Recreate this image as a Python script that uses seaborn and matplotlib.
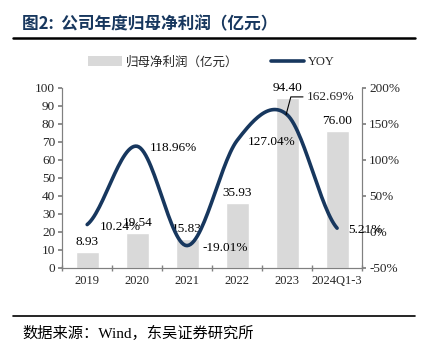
import matplotlib.pyplot as plt
import numpy as np
import seaborn as sns
import pandas as pd
from matplotlib.lines import Line2D
from matplotlib.patches import Patch

sns.set_theme(style="white")
plt.rcParams['font.family'] = ['Liberation Serif', 'Noto Sans CJK SC']

# 数据
categories = ['2019', '2020', '2021', '2022', '2023', '2024Q1-3']
profit = [8.93, 19.54, 15.83, 35.93, 94.40, 76.00]
yoy = [10.24, 118.96, -19.01, 127.04, 162.69, 5.21]
profit_labels = ['8.93', '19.54', '15.83', '35.93', '94.40', '76.00']
yoy_labels = ['10.24%', '118.96%', '-19.01%', '127.04%', '162.69%', '5.21%']

bar_color = '#d9d9d9'
line_color = '#17375e'
axis_color = '#808080'

df = pd.DataFrame({'年份': categories, '利润': profit})

fig = plt.figure(figsize=(4.23, 3.53), dpi=100)
ax = fig.add_axes([0.147, 0.241, 0.709, 0.510])

sns.barplot(data=df, x='年份', y='利润', color=bar_color, width=0.46,
            saturation=1, ax=ax)
ax.set_ylim(0, 100)
ax.set_xlim(-0.5, 5.5)
ax.set_yticks(range(0, 101, 10))
ax.set_xlabel('')
ax.set_ylabel('')

# 柱子数值标签
for i, (v, s) in enumerate(zip(profit, profit_labels)):
    ax.text(i, v + 2.2, s, ha='center', va='bottom', fontsize=9.5, color='black')

# 平滑曲线 (Catmull-Rom)
ax2 = ax.twinx()
pts = np.array(yoy, dtype=float)
ext = np.concatenate([[pts[0]], pts, [pts[-1]]])
xs, ys = [], []
for k in range(len(pts) - 1):
    p0, p1, p2, p3 = ext[k], ext[k + 1], ext[k + 2], ext[k + 3]
    t = np.linspace(0, 1, 30)
    y = 0.5 * (2 * p1 + (-p0 + p2) * t + (2 * p0 - 5 * p1 + 4 * p2 - p3) * t ** 2
               + (-p0 + 3 * p1 - 3 * p2 + p3) * t ** 3)
    xs.extend(k + t)
    ys.extend(y)
sns.lineplot(x=xs, y=ys, sort=False, color=line_color, lw=2.6, ax=ax2)
ax2.set_ylim(-50, 200)
ax2.set_yticks(range(-50, 201, 50))
ax2.set_yticklabels([f'{v}%' for v in range(-50, 201, 50)])

# 折线标签
yoy_pos = [(0.66, 6.9), (1.72, 116.7), (2.76, -22), (3.7, 125), (4.86, 187.5), (5.56, 2.8)]
for (x, y), s in zip(yoy_pos, yoy_labels):
    if s == '162.69%':
        ax2.annotate(s, xy=(3.98, 163), xytext=(x, y), ha='center', va='center',
                     fontsize=9.5,
                     arrowprops=dict(arrowstyle='-', color='black', lw=0.8,
                                     shrinkA=0, shrinkB=0,
                                     connectionstyle='angle,angleA=0,angleB=75,rad=0',
                                     relpos=(0, 0.5)))
    else:
        ax2.text(x, y, s, ha='center', va='center', fontsize=9.5, color='black')

# 坐标轴样式
for a in (ax, ax2):
    a.spines['top'].set_visible(False)
    for side in ('left', 'right', 'bottom'):
        a.spines[side].set_color(axis_color)
        a.spines[side].set_linewidth(0.8)
    a.grid(False)
ax.tick_params(axis='y', left=True, length=3, color=axis_color, labelsize=9.5, pad=2)
ax2.tick_params(axis='y', right=True, length=3, color=axis_color, labelsize=9.5, pad=2)
ax.set_xticks(np.arange(-0.5, 6, 1), minor=True)
ax.tick_params(axis='x', which='major', length=0, labelsize=9, pad=5)
ax.tick_params(axis='x', which='minor', bottom=True, length=4, direction='inout',
               color=axis_color)

# 图例
handles = [Patch(facecolor=bar_color, edgecolor='none'),
           Line2D([0], [0], color=line_color, lw=2.6)]
fig.legend(handles, ['归母净利润（亿元）', 'YOY'], loc='center', ncol=2,
           bbox_to_anchor=(0.5, 0.824), frameon=False, fontsize=9,
           handlelength=2.7, handleheight=0.9, columnspacing=2.6, handletextpad=0.3)

# 标题和来源
fig.text(0.052, 0.932, '图2:  公司年度归母净利润（亿元）', fontsize=12, fontweight='bold',
         color=line_color, ha='left', va='center',
         family=['Noto Sans CJK SC', 'DejaVu Sans'])
fig.add_artist(Line2D([0.031, 0.981], [0.892, 0.892], color='black', lw=1.8))
fig.add_artist(Line2D([0.031, 0.981], [0.105, 0.105], color='black', lw=1.2))
fig.text(0.052, 0.057, '数据来源：Wind，东吴证券研究所', fontsize=11, color='black',
         ha='left', va='center')

fig.savefig('out.png', dpi=100)
